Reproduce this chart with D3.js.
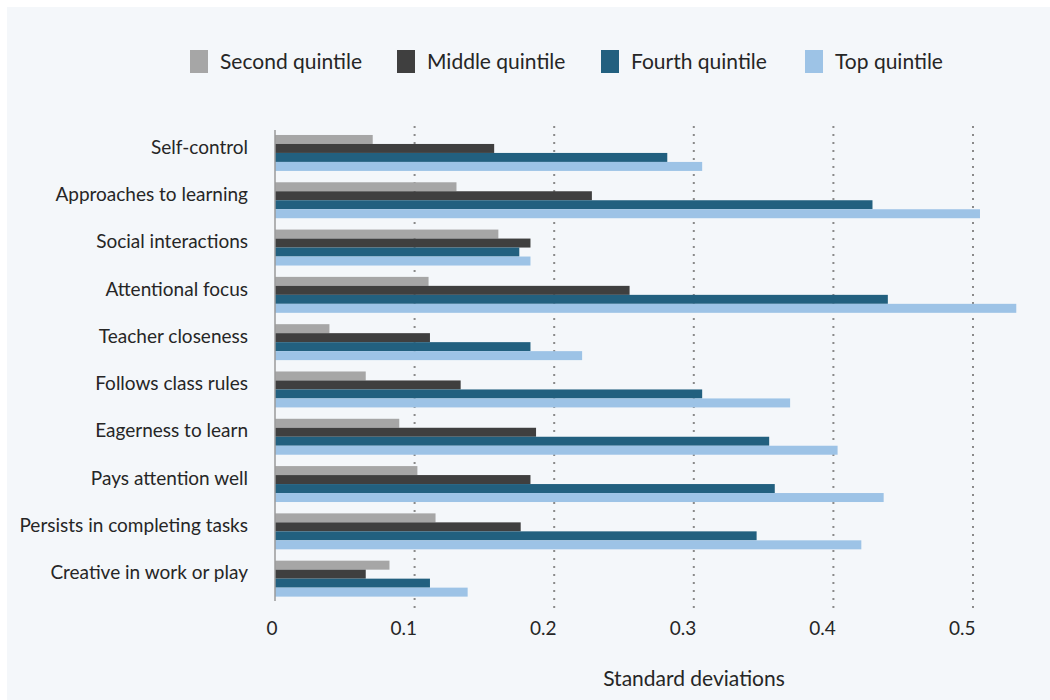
<!DOCTYPE html>
<html>
<head>
<meta charset="utf-8">
<script src="https://cdn.jsdelivr.net/npm/d3@7"></script>
<style>
  html, body { margin: 0; padding: 0; background: #ffffff; }
  svg text { font-family: Lato, "Open Sans", sans-serif; fill: #262626; }
</style>
</head>
<body>
<svg id="chart" width="1050" height="700"></svg>
<script>
var categories = [
  'Self-control', 'Approaches to learning', 'Social interactions', 'Attentional focus',
  'Teacher closeness', 'Follows class rules', 'Eagerness to learn', 'Pays attention well',
  'Persists in completing tasks', 'Creative in work or play'
];
var seriesNames = ['Second quintile', 'Middle quintile', 'Fourth quintile', 'Top quintile'];
var secondQuintile = [0.070, 0.130, 0.160, 0.110, 0.039, 0.065, 0.089, 0.102, 0.115, 0.082];
var middleQuintile = [0.157, 0.227, 0.183, 0.254, 0.111, 0.133, 0.187, 0.183, 0.176, 0.065];
var fourthQuintile = [0.281, 0.428, 0.175, 0.439, 0.183, 0.306, 0.354, 0.358, 0.345, 0.111];
var topQuintile    = [0.306, 0.505, 0.183, 0.531, 0.220, 0.369, 0.403, 0.436, 0.420, 0.138];
var xTicks = [0, 0.1, 0.2, 0.3, 0.4, 0.5];
var colors = ['#a6a6a6', '#3f3f3f', '#22607f', '#9dc3e6'];

var seriesValues = [secondQuintile, middleQuintile, fourthQuintile, topQuintile];

var svg = d3.select('#chart');

// light panel behind everything
svg.append('rect')
  .attr('x', 7).attr('y', 7)
  .attr('width', 1043).attr('height', 693)
  .attr('fill', '#f4f7fa');

var x = d3.scaleLinear().domain([0, 0.5]).range([275, 973]);

var y = d3.scaleBand()
  .domain(categories)
  .range([129.3, 602.3])
  .paddingInner(0.24)
  .paddingOuter(0.12);

var ySub = d3.scaleBand()
  .domain(seriesNames)
  .range([0, y.bandwidth()]);

var color = d3.scaleOrdinal().domain(seriesNames).range(colors);

// dotted gridlines
svg.append('g')
  .selectAll('line')
  .data(xTicks.slice(1))
  .enter().append('line')
  .attr('x1', function(d){ return x(d); })
  .attr('x2', function(d){ return x(d); })
  .attr('y1', 126)
  .attr('y2', 610)
  .attr('stroke', '#8a8a8a')
  .attr('stroke-width', 2)
  .attr('stroke-dasharray', '2,6');

// bars
var rows = categories.map(function(c, i) {
  return { cat: c, vals: seriesNames.map(function(s, j){ return { key: s, value: seriesValues[j][i] }; }) };
});

var groups = svg.append('g').selectAll('g')
  .data(rows)
  .enter().append('g')
  .attr('transform', function(d){ return 'translate(0,' + y(d.cat) + ')'; });

groups.selectAll('rect')
  .data(function(d){ return d.vals; })
  .enter().append('rect')
  .attr('x', x(0))
  .attr('y', function(d){ return ySub(d.key); })
  .attr('width', function(d){ return x(d.value) - x(0); })
  .attr('height', ySub.bandwidth())
  .attr('fill', function(d){ return color(d.key); });

// vertical axis line
svg.append('line')
  .attr('x1', x(0)).attr('x2', x(0))
  .attr('y1', 130).attr('y2', 601)
  .attr('stroke', '#9a9a9a')
  .attr('stroke-width', 1.5);

// category labels
svg.append('g')
  .selectAll('text')
  .data(categories)
  .enter().append('text')
  .attr('x', 248)
  .attr('y', function(d){ return y(d) + 12; })
  .attr('dy', '0.35em')
  .attr('text-anchor', 'end')
  .style('font-size', '19px')
  .text(function(d){ return d; });

// x axis
var xAxis = svg.append('g')
  .attr('transform', 'translate(0,622)')
  .call(d3.axisBottom(x).tickValues(xTicks).tickSize(0).tickFormat(d3.format('')));
xAxis.select('.domain').remove();
xAxis.selectAll('text')
  .attr('text-anchor', 'end')
  .attr('dx', '0.1em')
  .attr('dy', '0.55em')
  .style('font-size', '19px')
  .style('font-family', 'Lato, "Open Sans", sans-serif')
  .attr('fill', '#262626');

svg.append('text')
  .attr('x', 694)
  .attr('y', 679)
  .attr('text-anchor', 'middle')
  .attr('dy', '0.35em')
  .style('font-size', '21px')
  .text('Standard deviations');

// legend
var legendX = [190, 397, 601, 805];
var legend = svg.append('g').selectAll('g')
  .data(seriesNames)
  .enter().append('g')
  .attr('transform', function(d, i){ return 'translate(' + legendX[i] + ',50)'; });

legend.append('rect')
  .attr('width', 18)
  .attr('height', 23)
  .attr('fill', function(d){ return color(d); });

legend.append('text')
  .attr('x', 30)
  .attr('y', 12)
  .attr('dy', '0.35em')
  .style('font-size', '21px')
  .text(function(d){ return d; });
</script>
</body>
</html>
